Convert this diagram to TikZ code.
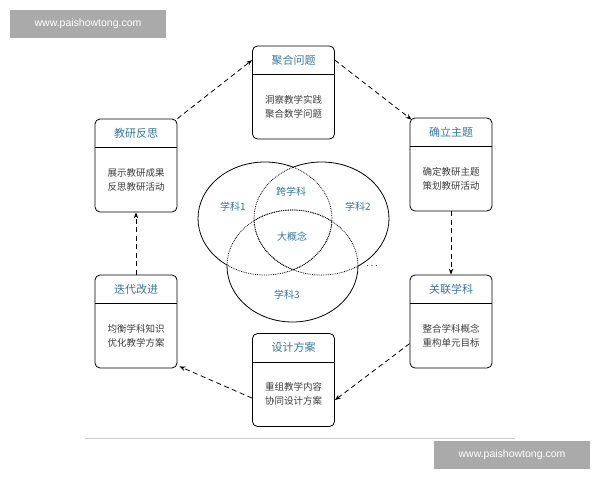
\documentclass[tikz,border=0pt]{standalone}
\usepackage{fontspec}
\setmainfont{Noto Sans CJK SC}
\setsansfont{Liberation Sans}
\usetikzlibrary{arrows.meta, positioning}
\definecolor{headblue}{RGB}{52,120,160}
\definecolor{bodygray}{RGB}{60,60,60}
\definecolor{markgray}{RGB}{170,170,170}
\tikzset{
	stage/.style={
		draw=black,
		thick,
		rounded corners=5pt,
		minimum width=82pt,
		minimum height=93pt,
		inner sep=0pt},
	head/.style={
		text=headblue,
		font=\fontsize{11}{13}\selectfont},
	body/.style={
		text=bodygray,
		align=center,
		font=\fontsize{9.5}{14}\selectfont},
	setlabel/.style={
		text=headblue,
		font=\fontsize{10}{12}\selectfont},
	arrow/.style={-{Stealth[length=6pt]}, thick, dash pattern=on 5pt off 3.5pt},
	sitemark/.style={
		fill=markgray,
		text=white,
		minimum width=156pt,
		minimum height=28pt,
		font=\sffamily\fontsize{10.5}{12}\selectfont}
}
\newcommand{\stagebox}[5]{%
	\node (#1) [stage] at (#2,#3) {};
	\draw[thick] ([yshift=-29pt]#1.north west) -- ([yshift=-29pt]#1.north east);
	\node (#1-h) [head] at ([yshift=-14.5pt]#1.north) {#4};
	\node (#1-b) [body] at ([yshift=-61pt]#1.north) {#5};
}
\begin{document}
\begin{tikzpicture}[x=1pt,y=-1pt]
\useasboundingbox (0,0) rectangle (600,480);

% --- stages ---
\stagebox{ju}{293.5}{92.5}{聚合问题}{洞察教学实践\\聚合数学问题}
\stagebox{que}{451}{164.5}{确立主题}{确定教研主题\\策划教研活动}
\stagebox{guan}{451}{321.5}{关联学科}{整合学科概念\\重构单元目标}
\stagebox{she}{293.5}{380}{设计方案}{重组教学内容\\协同设计方案}
\stagebox{die}{136}{321.5}{迭代改进}{均衡学科知识\\优化教学方案}
\stagebox{jiao}{136}{165.5}{教研反思}{展示教研成果\\反思教研活动}

% --- venn ---
\def\ea{(265,218.5) ellipse [x radius=67, y radius=56.5]}
\def\eb{(321.5,218.5) ellipse [x radius=67.5, y radius=56.5]}
\def\ec{(292.5,266) ellipse [x radius=65.5, y radius=56]}
% solid outer parts
\begin{scope}[even odd rule]
	\begin{scope}\clip (-10,-10) rectangle (610,490) \eb;
		\begin{scope}\clip (-10,-10) rectangle (610,490) \ec;
			\draw[thick] \ea;
		\end{scope}
	\end{scope}
	\begin{scope}\clip (-10,-10) rectangle (610,490) \ea;
		\begin{scope}\clip (-10,-10) rectangle (610,490) \ec;
			\draw[thick] \eb;
		\end{scope}
	\end{scope}
	\begin{scope}\clip (-10,-10) rectangle (610,490) \ea;
		\begin{scope}\clip (-10,-10) rectangle (610,490) \eb;
			\draw[thick] \ec;
		\end{scope}
	\end{scope}
\end{scope}
% dotted inner parts
\begin{scope}\clip \eb; \draw[densely dotted, thick] \ea; \end{scope}
\begin{scope}\clip \ec; \draw[densely dotted, thick] \ea; \end{scope}
\begin{scope}\clip \ea; \draw[densely dotted, thick] \eb; \end{scope}
\begin{scope}\clip \ec; \draw[densely dotted, thick] \eb; \end{scope}
\begin{scope}\clip \ea; \draw[densely dotted, thick] \ec; \end{scope}
\begin{scope}\clip \eb; \draw[densely dotted, thick] \ec; \end{scope}

\node (s1) [setlabel] at (233,207) {学科1};
\node (s2) [setlabel] at (358,207) {学科2};
\node (s3) [setlabel] at (287,295) {学科3};
\node (kua) [setlabel] at (291,192) {跨学科};
\node (da) [setlabel] at (292,237) {大概念};
\node (more) at (372,266) {$\cdots$};

% --- arrows ---
\draw [arrow] (jiao.north east) -- (ju.west |- ju-h);
\draw [arrow] (ju.east |- ju-h) -- ([xshift=2pt,yshift=-2pt]que.north west);
\draw [arrow] (que.south) -- (guan.north);
\draw [arrow] ([yshift=-8pt]guan.west |- guan-b) -- ([yshift=-6pt]she.east |- she-b);
\draw [arrow] ([yshift=-4pt]she.west |- she-b) -- ([xshift=2pt,yshift=2pt]die.south east);
\draw [arrow] (die.north) -- (jiao.south);

% --- page marks ---
\draw[gray!40] (85,438) -- (515,438);
\node (wm1) [sitemark] at (88,24) {www.paishowtong.com};
\node (wm2) [sitemark] at (512,455) {www.paishowtong.com};
\end{tikzpicture}
\end{document}
